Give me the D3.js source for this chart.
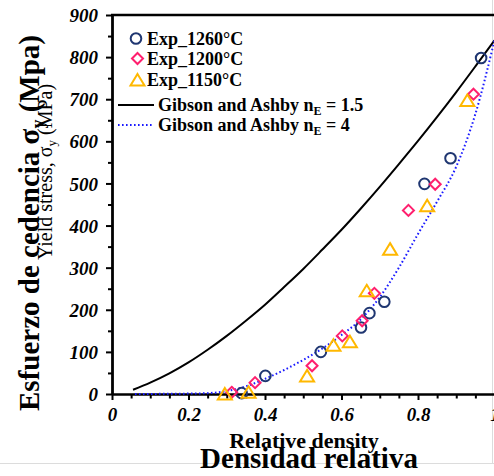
<!DOCTYPE html>
<html><head><meta charset="utf-8">
<script src="https://cdn.jsdelivr.net/npm/d3@7"></script>
<style>
html,body{margin:0;padding:0;background:#fff;}
svg{display:block;font-family:"Liberation Serif","Times New Roman",serif;}
</style></head>
<body>
<svg id="chart" width="494" height="476"></svg>
<script>
// ---- data ----
const exp1260X = [0.339, 0.401, 0.546, 0.651, 0.673, 0.712, 0.817, 0.885, 0.965];
const exp1260Y = [2, 43, 100, 158, 192, 219, 499, 560, 798];
const exp1200X = [0.313, 0.374, 0.523, 0.602, 0.654, 0.686, 0.775, 0.845, 0.945];
const exp1200Y = [4, 27, 67, 138, 174, 239, 436, 498, 712];
const exp1150X = [0.295, 0.357, 0.510, 0.579, 0.622, 0.666, 0.727, 0.824, 0.929];
const exp1150Y = [0, 4, 43, 116, 124, 245, 344, 447, 697];
const gaSolidX = [0.055, 0.1, 0.15, 0.2, 0.25, 0.3, 0.35, 0.4, 0.45, 0.5, 0.55, 0.6, 0.65, 0.7, 0.75, 0.8, 0.85, 0.9, 0.95, 1.0];
const gaSolidY = [10, 27, 49, 75, 105, 138, 174, 212, 254, 297, 343, 390, 440, 492, 546, 601, 658, 717, 778, 840];
const gaDotX = [0.06, 0.15, 0.2, 0.25, 0.3, 0.35, 0.4, 0.45, 0.5, 0.55, 0.6, 0.65, 0.7, 0.75, 0.8, 0.85, 0.9, 0.95, 1.0];
const gaDotY = [0, 0.5, 1, 2, 7, 18, 36, 57, 81, 108, 140, 177, 230, 300, 380, 457, 540, 665, 840];
const xTickValues = [0,0.05,0.1,0.15,0.2,0.25,0.3,0.35,0.4,0.45,0.5,0.55,0.6,0.65,0.7,0.75,0.8,0.85,0.9,0.95,1];
const xTickLabels = ["0","","","","0.2","","","","0.4","","","","0.6","","","","0.8","","","","1"];
const yTickValues = [0,50,100,150,200,250,300,350,400,450,500,550,600,650,700,750,800,850,900];
const yTickLabels = ["0","","100","","200","","300","","400","","500","","600","","700","","800","","900"];
const legendLabels = ["Exp_1260°C","Exp_1200°C","Exp_1150°C"];

const colCircle = "#1f3671", colDiamond = "#ff1f6e", colTri = "#ffb800", colDot = "#1a1aff";

const svg = d3.select("#chart");
const x = d3.scaleLinear().domain([0,1]).range([112,494.5]);
const y = d3.scaleLinear().domain([0,900]).range([394,15]);

// light frame lines of the picture
svg.append("line").attr("x1",0).attr("x2",494).attr("y1",463.5).attr("y2",463.5).attr("stroke","#dcdcdc").attr("stroke-width",1);
svg.append("line").attr("x1",492.5).attr("x2",492.5).attr("y1",0).attr("y2",463).attr("stroke","#dcdcdc").attr("stroke-width",1);

// axes
const xAxis = d3.axisBottom(x).tickValues(xTickValues).tickSize(5).tickSizeOuter(0)
  .tickFormat((d,i)=>xTickLabels[i]);
const gx = svg.append("g").attr("transform","translate(0,394)").call(xAxis);
gx.select(".domain").attr("stroke","#000").attr("stroke-width",2.5);
gx.selectAll(".tick line").attr("stroke","#000").attr("stroke-width",2)
  .attr("y2",(d,i)=>xTickLabels[i]!==""?6:4.5);
gx.selectAll(".tick text").attr("y",14).attr("dy","0.71em")
  .style("font-family","'Liberation Serif',serif").style("font-size","19px")
  .style("font-weight","bold").style("font-style","italic").attr("fill","#000");

const yAxis = d3.axisLeft(y).tickValues(yTickValues).tickSize(6).tickSizeOuter(0)
  .tickFormat((d,i)=>yTickLabels[i]);
const gy = svg.append("g").attr("transform","translate(112,0)").call(yAxis);
gy.select(".domain").attr("stroke","#000").attr("stroke-width",2.8);
gy.selectAll(".tick line").attr("stroke","#000").attr("stroke-width",2)
  .attr("x2",(d,i)=>yTickLabels[i]!==""?-6:-4);
gy.selectAll(".tick text").attr("x",-14).attr("dy","0.35em")
  .style("font-family","'Liberation Serif',serif").style("font-size","19px")
  .style("font-weight","bold").style("font-style","italic").attr("fill","#000");

// top border
svg.append("line").attr("x1",x(0)-1).attr("x2",494).attr("y1",y(900)).attr("y2",y(900))
  .attr("stroke","#000").attr("stroke-width",2.5);

// curves
const line = d3.line().x(d=>x(d[0])).y(d=>y(d[1])).curve(d3.curveMonotoneX);
svg.append("path").datum(gaSolidX.map((v,i)=>[v,gaSolidY[i]]))
  .attr("d",line).attr("fill","none").attr("stroke","#000").attr("stroke-width",2);
svg.append("path").datum(gaDotX.map((v,i)=>[v,gaDotY[i]]))
  .attr("d",line).attr("fill","none").attr("stroke",colDot).attr("stroke-width",2)
  .attr("stroke-dasharray","1.6,2.4");

// markers
const triPath = "M0,-6L7,5.5L-7,5.5Z";
const diaPath = "M0,-5.5L5.5,0L0,5.5L-5.5,0Z";
function drawCircles(xs, ys){
  svg.append("g").selectAll("circle").data(xs.map((v,i)=>[v,ys[i]])).join("circle")
    .attr("cx",d=>x(d[0])).attr("cy",d=>y(d[1])).attr("r",5.3)
    .attr("fill","none").attr("stroke",colCircle).attr("stroke-width",2);
}
function drawPaths(xs, ys, p, col){
  svg.append("g").selectAll("path").data(xs.map((v,i)=>[v,ys[i]])).join("path")
    .attr("d",p).attr("transform",d=>`translate(${x(d[0])},${y(d[1])})`)
    .attr("fill","none").attr("stroke",col).attr("stroke-width",2);
}
drawCircles(exp1260X, exp1260Y);
drawPaths(exp1200X, exp1200Y, diaPath, colDiamond);
drawPaths(exp1150X, exp1150Y, triPath, colTri);

// legend
const lg = svg.append("g").style("font-family","'Liberation Serif',serif").style("font-weight","bold").style("font-size","18px");
lg.append("circle").attr("cx",136).attr("cy",38.5).attr("r",5.3).attr("fill","none").attr("stroke",colCircle).attr("stroke-width",2);
lg.append("path").attr("d",diaPath).attr("transform","translate(137.5,58.5)").attr("fill","none").attr("stroke",colDiamond).attr("stroke-width",2);
lg.append("path").attr("d",triPath).attr("transform","translate(137.5,80)").attr("fill","none").attr("stroke",colTri).attr("stroke-width",2);
[45,65,86].forEach((yy,i)=>{
  lg.append("text").attr("x",147).attr("y",yy).text(legendLabels[i]);
});
lg.append("line").attr("x1",118).attr("x2",154).attr("y1",105).attr("y2",105).attr("stroke","#000").attr("stroke-width",2);
lg.append("line").attr("x1",118).attr("x2",154).attr("y1",125).attr("y2",125).attr("stroke",colDot).attr("stroke-width",2).attr("stroke-dasharray","1.6,2.4");
function gibson(yy, val){
  const t = lg.append("text").attr("x",158).attr("y",yy);
  t.append("tspan").text("Gibson and Ashby n");
  t.append("tspan").attr("dy",4).style("font-size","12px").text("E");
  t.append("tspan").attr("dy",-4).text(" = " + val);
}
gibson(111, "1.5");
gibson(131, "4");

// axis titles
const big = svg.append("text").attr("transform","translate(39,223) rotate(-90)")
  .attr("text-anchor","middle").style("font-weight","bold").style("font-size","29px");
big.append("tspan").text("Esfuerzo de cedencia σ");
big.append("tspan").attr("dy",5).style("font-size","18px").text("y");
big.append("tspan").attr("dy",-5).text(" (Mpa)");

const small = svg.append("text").attr("transform","translate(52,172) rotate(-90)")
  .attr("text-anchor","middle").style("font-size","20px");
small.append("tspan").text("Yield stress, σ");
small.append("tspan").attr("dy",4).style("font-size","13px").text("y");
small.append("tspan").attr("dy",-4).text(" (MPa)");

svg.append("text").attr("x",304).attr("y",448).attr("text-anchor","middle")
  .style("font-weight","bold").style("font-size","22px").text("Relative density");
svg.append("text").attr("x",309).attr("y",468).attr("text-anchor","middle")
  .style("font-weight","bold").style("font-size","29px").text("Densidad relativa");
</script>
</body></html>
